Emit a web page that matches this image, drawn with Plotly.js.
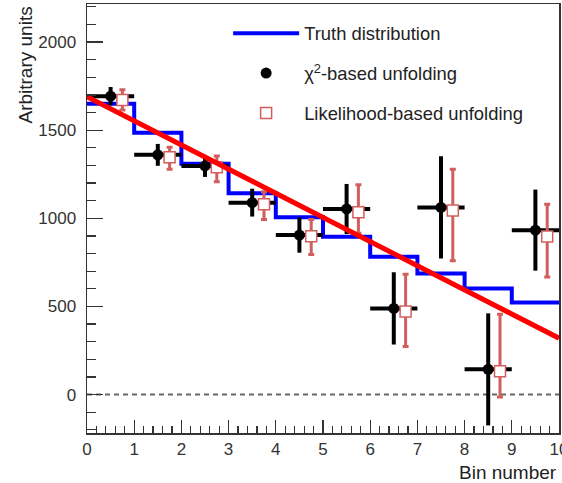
<!DOCTYPE html>
<html><head><meta charset="utf-8">
<script src="https://cdn.plot.ly/plotly-3.0.1.min.js"></script>
<style>html,body{margin:0;padding:0;background:#fff}#chart{width:562px;height:483px}</style>
</head><body><div id="chart"></div>
<script>
// ---- data ----
const binEdges   = [0, 1, 2, 3, 4, 5, 6, 7, 8, 9, 10];
const binCenters = [0.5, 1.5, 2.5, 3.5, 4.5, 5.5, 6.5, 7.5, 8.5, 9.5];
const truth      = [1650, 1485, 1310, 1142, 1006, 895, 782, 687, 602, 523];
const chi2       = [1693, 1360, 1297, 1089, 905, 1053, 489, 1062, 143, 933];
const chi2Err    = [52, 62, 62, 79, 100, 142, 205, 290, 318, 230];
const lik        = [1672, 1346, 1290, 1080, 899, 1035, 471, 1044, 132, 897];
const likErrUp   = [57, 57, 64, 71, 95, 155, 211, 234, 324, 183];
const likErrDown = [57, 68, 82, 86, 104, 120, 198, 285, 146, 230];
const fitX       = [0, 10];
const fitY       = [1690, 320];
const xTickVals  = [0, 1, 2, 3, 4, 5, 6, 7, 8, 9, 10];
const yTickVals  = [0, 500, 1000, 1500, 2000];

// ---- style ----
const likShift = 0.25;
const RED_PT = '#d25f5f';
const FONT = 'Liberation Sans, Arial, Helvetica, sans-serif';
const AX = '#333';

const truthY = truth.concat([truth[truth.length - 1]]);

const traces = [
  {
    x: binEdges, y: truthY, mode: 'lines', line: {shape: 'hv', color: '#0000ff', width: 4},
    name: 'Truth distribution', legendgroup: 'a', hoverinfo: 'skip'
  },
  {
    x: binCenters, y: chi2, mode: 'markers', name: 'χ<sup>2</sup>-based unfolding', legendgroup: 'b',
    marker: {symbol: 'circle', size: 11, color: '#000'},
    error_y: {type: 'data', array: chi2Err, color: '#000', thickness: 4, width: 0},
    error_x: {type: 'constant', value: 0.5, color: '#000', thickness: 4, width: 0}
  },
  {
    x: binCenters.map(v => v + likShift), y: lik, mode: 'markers', name: 'Likelihood-based unfolding', legendgroup: 'c',
    marker: {symbol: 'square', size: 11, color: '#fff', line: {color: RED_PT, width: 1.5}},
    error_y: {type: 'data', symmetric: false, array: likErrUp, arrayminus: likErrDown, color: RED_PT, thickness: 3, width: 3}
  },
  {
    x: fitX, y: fitY, mode: 'lines', line: {color: '#ff0000', width: 5}, showlegend: false, hoverinfo: 'skip'
  }
];

const layout = {
  width: 562, height: 483,
  margin: {l: 87, r: 3, t: 4, b: 50},
  paper_bgcolor: '#fff', plot_bgcolor: '#fff',
  font: {family: FONT, color: '#222'},
  showlegend: true,
  legend: {
    x: 0.299, y: 0.975, xanchor: 'left', yanchor: 'top',
    bgcolor: 'rgba(0,0,0,0)', borderwidth: 0, itemwidth: 66,
    font: {family: FONT, size: 18.4, color: '#222'},
    tracegroupgap: 13, traceorder: 'grouped'
  },
  xaxis: {
    range: [0, 10], tickvals: xTickVals, ticks: 'inside', ticklen: 13, tickwidth: 1.2, tickcolor: AX,
    showline: true, linecolor: AX, linewidth: 1.5, mirror: true, showgrid: false, zeroline: false,
    minor: {dtick: 0.2, tick0: 0, ticks: 'inside', ticklen: 7, tickwidth: 1.2, tickcolor: AX, showgrid: false},
    tickfont: {family: FONT, size: 17, color: '#333'}, ticklabelstandoff: 0, ticklabeloverflow: 'allow'
  },
  yaxis: {
    range: [-218, 2216], tickvals: yTickVals, ticks: 'inside', ticklen: 16, tickwidth: 1.2, tickcolor: AX,
    showline: true, linecolor: AX, linewidth: 1.5, mirror: true, showgrid: false, zeroline: false,
    minor: {dtick: 100, tick0: 0, ticks: 'inside', ticklen: 9, tickwidth: 1.2, tickcolor: AX, showgrid: false},
    tickfont: {family: FONT, size: 17, color: '#333'}, ticklabelstandoff: 6
  },
  shapes: [{
    type: 'line', xref: 'paper', x0: 0, x1: 1, yref: 'y', y0: 0, y1: 0,
    line: {color: '#666', width: 2, dash: '5px,4px'}, layer: 'below'
  }],
  annotations: [
    {text: 'Bin number', xref: 'paper', yref: 'paper', x: 1.0, y: -0.093, xanchor: 'right', yanchor: 'middle',
     showarrow: false, font: {family: FONT, size: 19, color: '#222'}},
    {text: 'Arbitrary units', xref: 'paper', yref: 'paper', x: -0.131, y: 0.998, xanchor: 'center', yanchor: 'top',
     textangle: -90, showarrow: false, font: {family: FONT, size: 19, color: '#222'}}
  ]
};

Plotly.newPlot('chart', traces, layout, {displayModeBar: false, staticPlot: true});
</script>
</body></html>
